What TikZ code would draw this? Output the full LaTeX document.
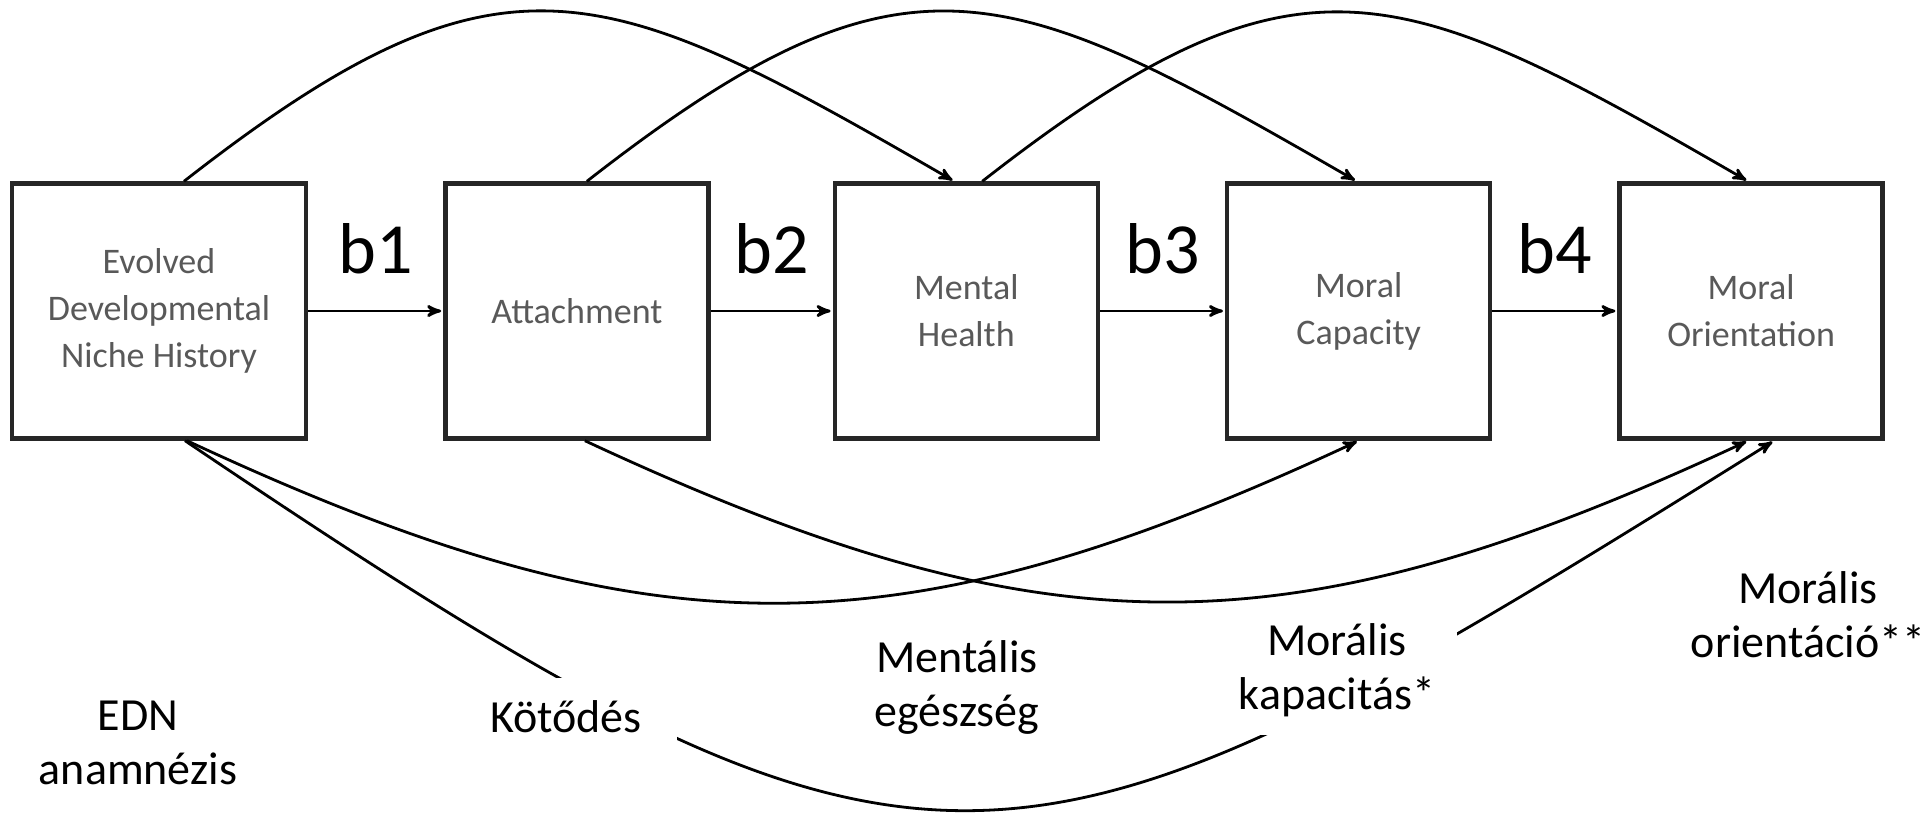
\documentclass[tikz,border=0pt]{standalone}
\usepackage{fontspec}
\setmainfont{Carlito}
\usepackage{tikz}
\usetikzlibrary{arrows,positioning}

\begin{document}
\begin{tikzpicture}[x=0.5pt,y=-0.5pt,->,>=stealth',shorten >=1pt,line width=1.4pt,
          node distance=62.5pt,
          main node/.style={rectangle,draw=black!85,line width=2.2pt,minimum width=131.5pt,
            minimum height=127.5pt,align=center,text=black!65,font=\fontsize{18}{23.5}\selectfont},
          hu node/.style={fill=white,align=center,inner sep=0pt,font=\fontsize{23}{27}\selectfont},
          b node/.style={above=18pt,inner sep=0pt,font=\fontsize{36}{40}\selectfont},
          over/.style={out=38,in=150,looseness=1.35},
          under/.style={out=-25,in=205,looseness=1.12}]
        \useasboundingbox (0,0) rectangle (1928,816);

        \node[main node,minimum width=147pt] (edn) at (159,311) {Evolved\\Developmental\\Niche History};
        \node[main node] (att) [right=67.5pt of edn] {Attachment};
        \node[main node] (mh) [right=61pt of att] {Mental\\Health};
        \node[main node] (mc) [right=of mh] {Moral\\Capacity};
        \node[main node] (mo) [right=of mc] {Moral\\Orientation};

        % long one, partly hidden by the labels
        \draw ([xshift=13pt]edn.south) to[out=-34,in=212,looseness=1.46] ([xshift=11.5pt]mo.south);

        \node[hu node] (edn hu) at (138,743) {EDN\\anamnézis};
        \node[hu node,minimum width=111pt,minimum height=39pt] (att hu) at (566,717) {Kötődés};
        \node[hu node] (mh hu) at (957,687) {Mentális\\egészség};
        \node[hu node,minimum width=120pt,minimum height=64.5pt] (mc hu) at (1337,670) {Morális\\kapacitás*};
        \node[hu node] (mo hu) at (1808,615) {Morális\\orientáció**};

        \path
        (edn) edge node[b node] {b1} (att)
        (att) edge node[b node] {b2} (mh)
        (mh) edge node[b node] {b3} (mc)
        (mc) edge node[b node] {b4} (mo)
        ([xshift=12.5pt]edn.north) edge[over] ([xshift=-6pt]mh.north)
        ([xshift=5pt]att.north) edge[over] ([xshift=-1pt]mc.north)
        ([xshift=8pt]mh.north) edge[over] ([xshift=-1.5pt]mo.north)
        ([xshift=14pt]edn.south) edge[under] (mc.south)
        ([xshift=4pt]att.south) edge[under] ([xshift=-1.5pt]mo.south);
      \end{tikzpicture}
\end{document}
